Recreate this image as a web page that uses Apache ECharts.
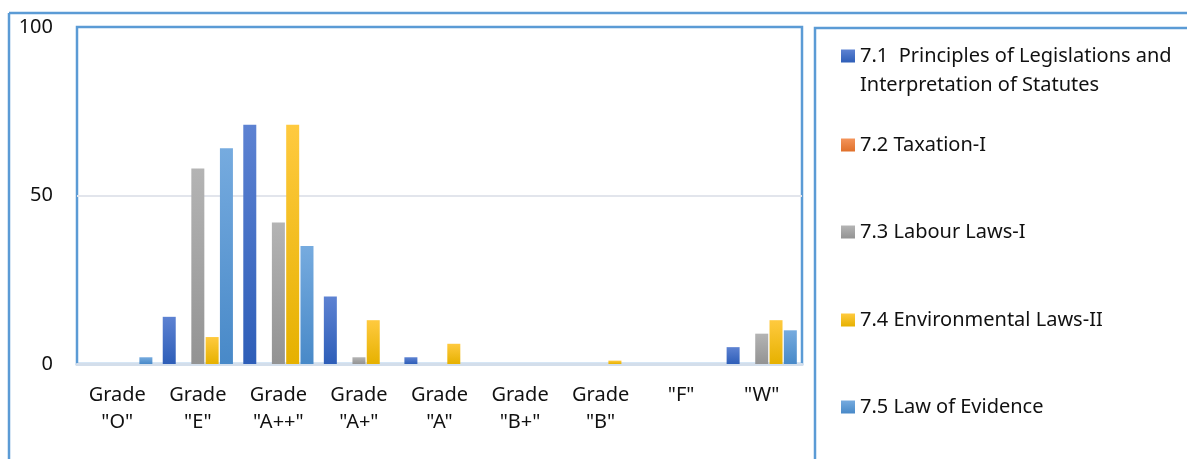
<!DOCTYPE html>
<html><head><meta charset="utf-8">
<script src="https://cdn.jsdelivr.net/npm/echarts@6/dist/echarts.min.js"></script>
<style>html,body{margin:0;padding:0;background:#fff}#c{width:1187px;height:459px}</style>
</head><body><div id="c"></div>
<script>
var categories = ['Grade\n"O"', 'Grade\n"E"', 'Grade\n"A++"', 'Grade\n"A+"', 'Grade\n"A"', 'Grade\n"B+"', 'Grade\n"B"', '"F"', '"W"'];
var seriesNames = [
  '7.1  Principles of Legislations and Interpretation of Statutes',
  '7.2 Taxation-I',
  '7.3 Labour Laws-I',
  '7.4 Environmental Laws-II',
  '7.5 Law of Evidence'
];
var s71 = [0, 14, 71, 20, 2, 0, 0, 0, 5];
var s72 = [0, 0, 0, 0, 0, 0, 0, 0, 0];
var s73 = [0, 58, 42, 2, 0, 0, 0, 0, 9];
var s74 = [0, 8, 71, 13, 6, 0, 1, 0, 13];
var s75 = [2, 64, 35, 0, 0, 0, 0, 0, 10];
var yTicks = [0, 50, 100];

var FONT = '"Noto Sans"';
var FS = 20;
function grad(top, bottom) {
  return new echarts.graphic.LinearGradient(0, 0, 0, 1, [{offset: 0, color: top}, {offset: 1, color: bottom}]);
}
var colors = [
  grad('#5d82d2', '#2e5eb8'),
  grad('#f4945a', '#e0702a'),
  grad('#b4b4b4', '#939393'),
  grad('#ffca3f', '#e6b100'),
  grad('#76abdf', '#4889c8')
];
var data = [s71, s72, s73, s74, s75];
var legendTops = [44, 133, 220, 308, 395];

var series = data.map(function (d, i) {
  return {
    name: seriesNames[i], type: 'bar', data: d,
    barWidth: 13, barGap: '10%',
    itemStyle: {color: colors[i]}
  };
});
var legends = seriesNames.map(function (n, i) {
  return {
    data: [n], left: 841, top: legendTops[i], orient: 'vertical', padding: 0,
    icon: 'rect', itemWidth: 14, itemHeight: 13, itemGap: 6,
    selectedMode: false,
    formatter: function (name) { return i === 0 ? '7.1  Principles of Legislations and' : name; },
    textStyle: {fontFamily: FONT, fontSize: FS, color: '#111', lineHeight: 24}
  };
});

var chart = echarts.init(document.getElementById('c'), null, {renderer: 'canvas'});
chart.setOption({
  animation: false,
  textStyle: {fontFamily: FONT},
  grid: {left: 77, top: 27, right: 385, bottom: 95, show: true, borderColor: '#5b9bd5', borderWidth: 2.5, backgroundColor: 'transparent'},
  legend: legends,
  xAxis: {
    type: 'category', data: categories,
    axisLine: {lineStyle: {color: '#d3deeb', width: 3}},
    axisTick: {show: false},
    axisLabel: {fontFamily: FONT, fontSize: FS, color: '#111', lineHeight: 27, margin: 18, interval: 0}
  },
  yAxis: {
    type: 'value', min: yTicks[0], max: yTicks[yTicks.length - 1], interval: 50,
    axisLine: {show: false}, axisTick: {show: false},
    axisLabel: {fontFamily: FONT, fontSize: FS, color: '#111', margin: 24},
    splitLine: {showMaxLine: false, showMinLine: false, lineStyle: {color: '#e2e5ec', width: 2}}
  },
  graphic: [
    {type: 'line', shape: {x1: 9, y1: 13, x2: 1190, y2: 13}, style: {stroke: '#5b9bd5', lineWidth: 2.5}, z: 10},
    {type: 'line', shape: {x1: 9, y1: 13, x2: 9, y2: 470}, style: {stroke: '#5b9bd5', lineWidth: 2.5}, z: 10},
    {type: 'rect', shape: {x: 815, y: 28, width: 400, height: 460}, style: {fill: 'none', stroke: '#5b9bd5', lineWidth: 2.5}, z: 10},
    {type: 'text', x: 860, y: 85, style: {text: 'Interpretation of Statutes', font: FS + 'px ' + FONT, fill: '#111', verticalAlign: 'middle'}, z: 10}
  ],
  series: series
});
</script></body></html>
